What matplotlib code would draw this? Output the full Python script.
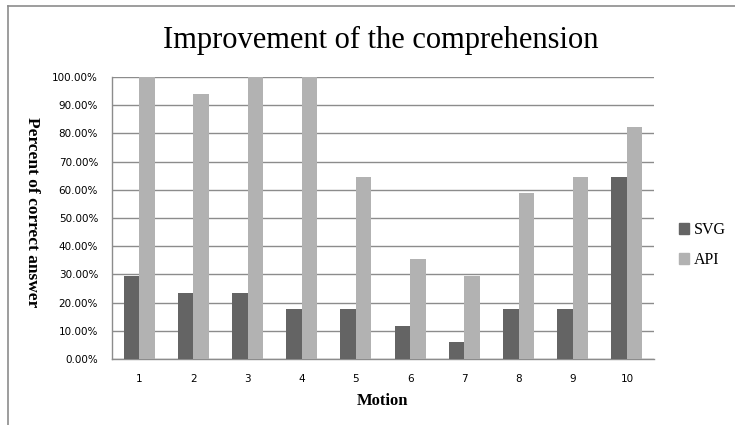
import matplotlib
matplotlib.use("Agg")
import matplotlib.pyplot as plt
from matplotlib.lines import Line2D
import numpy as np

motions = ["1", "2", "3", "4", "5", "6", "7", "8", "9", "10"]
svg = [29.41, 23.53, 23.53, 17.65, 17.65, 11.76, 5.88, 17.65, 17.65, 64.71]
api = [100.0, 94.12, 100.0, 100.0, 64.71, 35.29, 29.41, 58.82, 64.71, 82.35]
yticks = [0, 10, 20, 30, 40, 50, 60, 70, 80, 90, 100]

W, H = 735, 425
fig = plt.figure(figsize=(W/100, H/100), dpi=100)
ax = fig.add_axes([112/W, 1-359/H, (654-112)/W, (359-77)/H])

x = np.arange(len(motions))
bw = 0.286
ax.bar(x - bw/2, svg, bw, color="#646464", label="SVG", zorder=3)
ax.bar(x + bw/2, api, bw, color="#b2b2b2", label="API", zorder=3)

ax.set_xlim(-0.5, len(motions) - 0.5)
ax.set_ylim(0, 100)
ax.set_yticks(yticks)
ax.set_yticklabels([f"{v:.2f}%" for v in yticks], fontsize=7.5, family="DejaVu Sans")
ax.set_xticks(x)
ax.set_xticklabels(motions, fontsize=7.5, family="DejaVu Sans")
ax.tick_params(axis="x", length=0, pad=11)
ax.tick_params(axis="y", length=0, pad=10)
ax.yaxis.grid(True, color="#8c8c8c", linewidth=1, zorder=0)
for s in ["top", "right"]:
    ax.spines[s].set_visible(False)
for s in ["left", "bottom"]:
    ax.spines[s].set_color("#8c8c8c")
    ax.spines[s].set_linewidth(1)

ax.set_xlabel("Motion", family="Liberation Serif", fontsize=12, fontweight="bold", labelpad=6)
ax.set_ylabel("Percent of correct answer", family="Liberation Serif", fontsize=12.5,
              fontweight="bold", rotation=270)
ax.yaxis.set_label_coords(-0.148, 0.52)
ax.yaxis.label.set_va("center")

fig.text(381/W, 1-40/H, "Improvement of the comprehension", ha="center", va="center",
         family="Liberation Serif", fontsize=22)

handles = [plt.Rectangle((0, 0), 1, 1, color="#646464"),
           plt.Rectangle((0, 0), 1, 1, color="#b2b2b2")]
fig.legend(handles, ["SVG", "API"], loc="center left", bbox_to_anchor=(679/W, 1-245/H),
           frameon=False, prop={"family": "Liberation Serif", "size": 11.5},
           handlelength=0.65, handleheight=0.7, handletextpad=0.3, labelspacing=0.9,
           borderpad=0, borderaxespad=0)

# outer frame lines (left and top)
fig.add_artist(Line2D([8/W, 8/W], [0, 1-6/H], color="#8c8c8c", linewidth=1.2, transform=fig.transFigure))
fig.add_artist(Line2D([8/W, 1], [1-6/H, 1-6/H], color="#8c8c8c", linewidth=1.2, transform=fig.transFigure))

fig.savefig("out.png", dpi=100)
